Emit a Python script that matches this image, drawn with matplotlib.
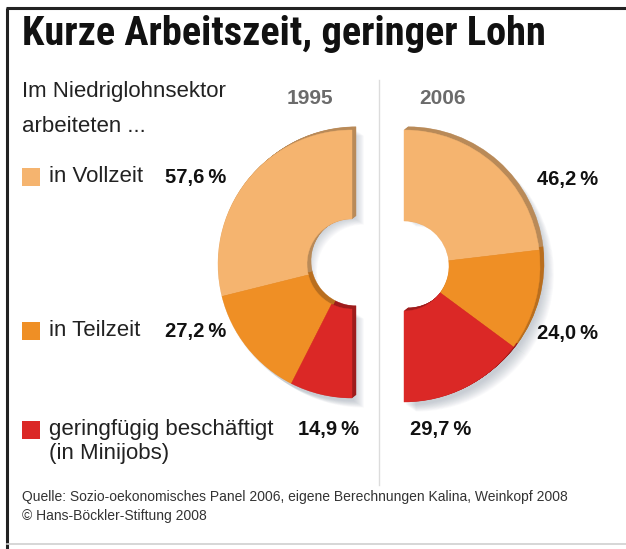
import matplotlib
matplotlib.use('Agg')
import matplotlib.pyplot as plt
from matplotlib import font_manager
from matplotlib.patches import Wedge, Rectangle
import numpy as np

W, H = 626, 549

years = ['1995', '2006']
categories = ['in Vollzeit', 'in Teilzeit', 'geringfügig beschäftigt\n(in Minijobs)']
share_1995 = [57.6, 27.2, 14.9]
share_2006 = [46.2, 24.0, 29.7]
labels_1995 = ['57,6\u2009%', '27,2\u2009%', '14,9\u2009%']
labels_2006 = ['46,2\u2009%', '24,0\u2009%', '29,7\u2009%']

face_colors = ['#F5B46F', '#EF8F25', '#DB2826']
side_colors = ['#B98A58', '#B96E1E', '#9E1C1C']

plt.rcParams['font.family'] = ['Liberation Sans', 'DejaVu Sans']

installed = {f.name for f in font_manager.fontManager.ttflist}
title_font = 'Liberation Sans'
for cand in ['Liberation Sans Narrow', 'Roboto Condensed', 'Open Sans Condensed',
             'DejaVu Sans Condensed']:
    if cand in installed:
        title_font = cand
        break

fig = plt.figure(figsize=(W / 100, H / 100), dpi=100)
ax = fig.add_axes([0, 0, 1, 1])
ax.set_xlim(0, W)
ax.set_ylim(0, H)
ax.axis('off')


def Y(y):
    return H - y


def half_donut(cx, cy, R, r, shares, left):
    scale = 180.0 / sum(shares)
    angles = []
    a = 90.0
    for s in shares:
        b = a + s * scale if left else a - s * scale
        angles.append((min(a, b), max(a, b)))
        a = b
    # soft drop shadow
    for i in range(12):
        for t1, t2 in angles:
            ax.add_patch(Wedge((cx + 2 + i * 0.9, Y(cy) - 1 - i * 0.6), R + 2, t1, t2,
                               width=R - r, fc='#6f7f90', ec='none', alpha=0.035))
    # extrusion (depth toward upper right)
    for k in np.linspace(0.5, 4, 8):
        for (t1, t2), c in zip(angles, side_colors):
            ax.add_patch(Wedge((cx + k, Y(cy) + k * 0.8), R, t1, t2, width=R - r,
                               fc=c, ec=c, lw=0.3))
    # faces
    for (t1, t2), c in zip(angles, face_colors):
        ax.add_patch(Wedge((cx, Y(cy)), R, t1, t2, width=R - r, fc=c, ec=c, lw=0.3))


half_donut(352, 264, 134, 45, share_1995, left=True)
half_donut(404, 266, 136, 45, share_2006, left=False)

# frame
ax.plot([7, 7], [Y(8), Y(549)], color='#222222', lw=2.2, solid_capstyle='butt')
ax.plot([6, W], [Y(8), Y(8)], color='#222222', lw=2.2, solid_capstyle='butt')
ax.plot([7, W], [Y(544), Y(544)], color='#d0d0d0', lw=1.2)
ax.plot([379, 379], [Y(80), Y(485)], color='#dcdcdc', lw=1.0)

# title, sized to span the same width as the original
title = ax.text(22, Y(34), 'Kurze Arbeitszeit, geringer Lohn', fontsize=26, fontweight='bold',
                family=[title_font, 'DejaVu Sans'], color='#111111',
                va='center', ha='left')
fig.canvas.draw()
tw = title.get_window_extent().width
title.set_fontsize(26 * 526 / tw)

tkw = dict(fontsize=16, color='#222222', va='center')
ax.text(22, Y(92), 'Im Niedriglohnsektor', **tkw)
ax.text(22, Y(127), 'arbeiteten ...', **tkw)

ax.text(310, Y(98), years[0], fontsize=15, fontweight='bold', color='#6b6b6b',
        ha='center', va='center')
ax.text(443, Y(98), years[1], fontsize=15, fontweight='bold', color='#6b6b6b',
        ha='center', va='center')

# legend entries
leg_y = [177, 331, 430]
for cat, c, y in zip(categories, face_colors, leg_y):
    ax.add_patch(Rectangle((22, Y(y + 9)), 18, 18, fc=c, ec='none'))
    first, *rest = cat.split('\n')
    ax.text(49, Y(y), first, **tkw)
    for j, line in enumerate(rest):
        ax.text(49, Y(y + 24 * (j + 1)), line, **tkw)

# value labels 1995
vkw = dict(fontsize=14.5, fontweight='bold', color='#111111', va='center')
ax.text(165, Y(177), labels_1995[0], **vkw)
ax.text(165, Y(331), labels_1995[1], **vkw)
ax.text(298, Y(430), labels_1995[2], **vkw)

# value labels 2006
ax.text(537, Y(180), labels_2006[0], **vkw)
ax.text(537, Y(333), labels_2006[1], **vkw)
ax.text(410, Y(430), labels_2006[2], **vkw)

ax.text(22, Y(497), 'Quelle: Sozio-oekonomisches Panel 2006, eigene Berechnungen Kalina, Weinkopf 2008',
        fontsize=10, color='#333333', va='center')
ax.text(22, Y(516), '© Hans-Böckler-Stiftung 2008', fontsize=10, color='#333333', va='center')

fig.savefig('out.png', dpi=100)
